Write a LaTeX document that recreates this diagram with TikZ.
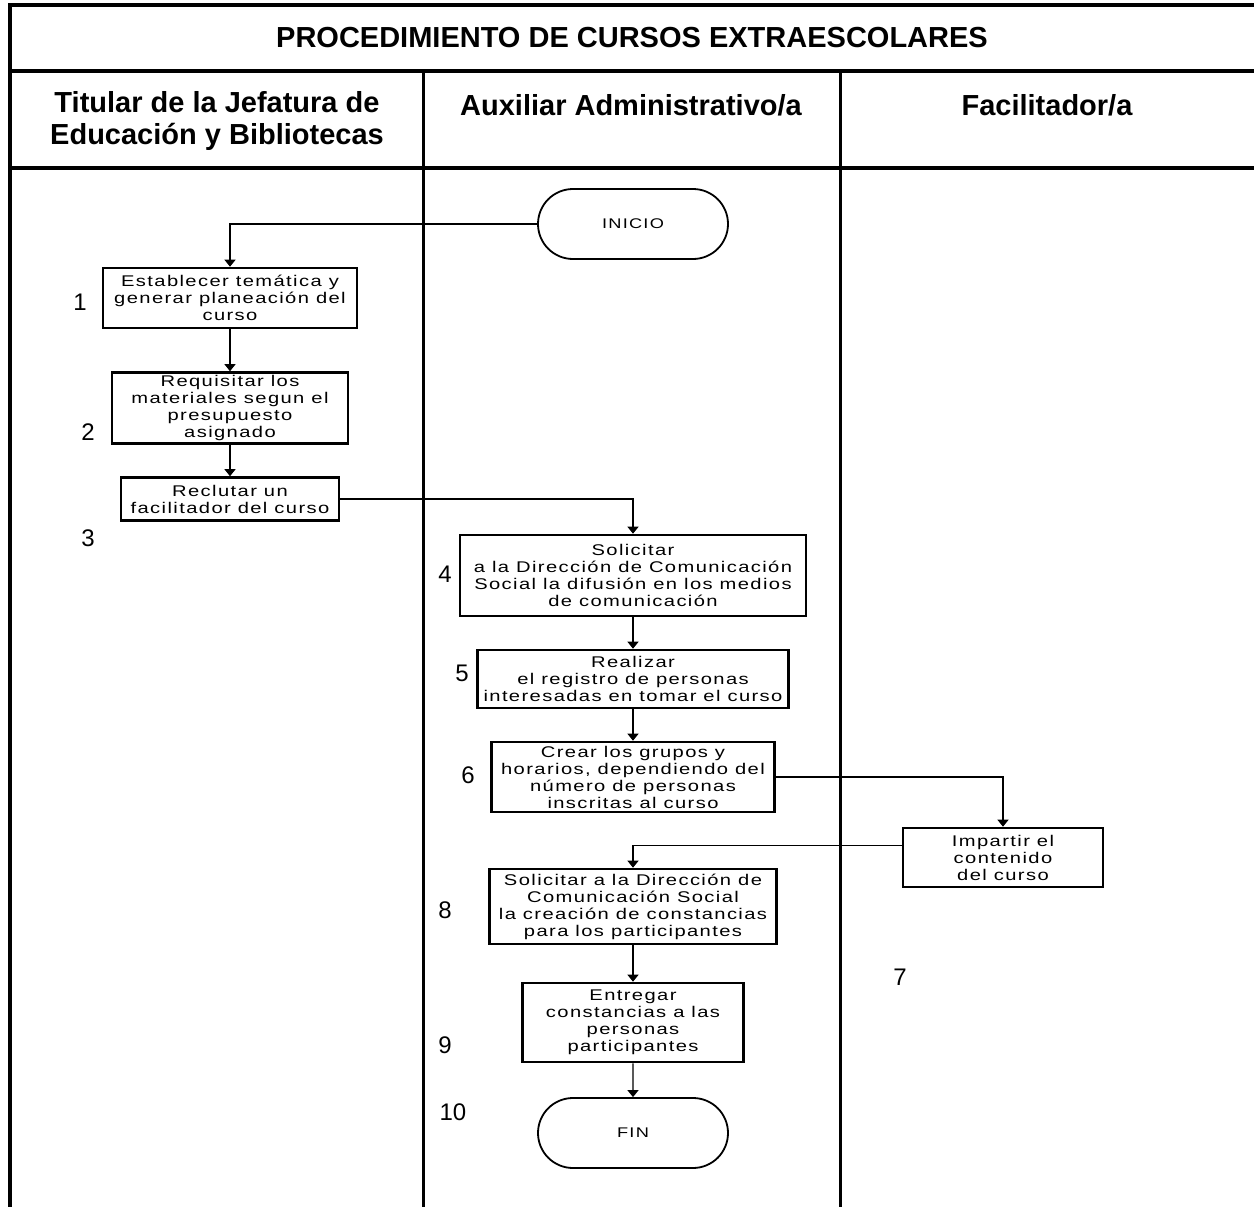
\documentclass[tikz,border=0pt]{standalone}
\usepackage{fontspec}
\setmainfont{Liberation Sans}
\newfontfamily\boxfont[FakeStretch=1.3,LetterSpace=9]{Liberation Sans}
\usetikzlibrary{arrows.meta,shapes.misc}
\begin{document}
\begin{tikzpicture}[x=1pt,y=-1pt,
  tline/.style={line width=4pt},
  cline/.style={line width=3pt},
  stepbox/.style={draw, line width=2.6pt, align=center, inner sep=0pt,
    font=\boxfont\fontsize{15.5}{17}\selectfont},
  term/.style={draw, line width=1.8pt, rounded rectangle, inner sep=0pt,
    minimum width=190pt, minimum height=70pt,
    font=\boxfont\fontsize{14}{16}\selectfont},
  num/.style={font=\fontsize{24}{24}\selectfont},
  arr/.style={line width=1.3pt, -{Triangle[width=11pt,length=7pt]}},
  head/.style={font=\bfseries\fontsize{29}{32}\selectfont, align=center}
]
\useasboundingbox (0,0) rectangle (1254,1207);
% table
\draw[tline] (10,1207) -- (10,5) -- (1254,5);
\draw[tline] (8,71) -- (1254,71);
\draw[tline] (8,168) -- (1254,168);
\draw[cline] (423,71) -- (423,1207);
\draw[cline] (840,71) -- (840,1207);
% titles
\node[head] (title) at (632,38) {PROCEDIMIENTO DE CURSOS EXTRAESCOLARES};
\node[head] (h1) at (217,121) {Titular de la Jefatura de\\Educación y Bibliotecas};
\node[head] (h2) at (631,105) {Auxiliar Administrativo/a};
\node[head] (h3) at (1047,105) {Facilitador/a};
% shapes
\node[term] (ini) at (633,224) {INICIO};
\node[stepbox, minimum width=254pt, minimum height=60pt] (b1) at (230,298)
  {Establecer temática y\\generar planeación del\\curso};
\node[stepbox, minimum width=236pt, minimum height=71pt] (b2) at (230,408)
  {Requisitar los\\materiales segun el\\presupuesto\\asignado};
\node[stepbox, minimum width=218pt, minimum height=43pt] (b3) at (230,499)
  {Reclutar un\\facilitador del curso};
\node[stepbox, minimum width=346pt, minimum height=81pt] (b4) at (633,575.5)
  {Solicitar\\a la Dirección de Comunicación\\Social la difusión en los medios\\de comunicación};
\node[stepbox, minimum width=311pt, minimum height=58pt] (b5) at (633,679)
  {Realizar\\el registro de personas\\interesadas en tomar el curso};
\node[stepbox, minimum width=283pt, minimum height=70pt] (b6) at (633,777)
  {Crear los grupos y\\horarios, dependiendo del\\número de personas\\inscritas al curso};
\node[stepbox, minimum width=200pt, minimum height=59pt] (b7) at (1003,857.5)
  {Impartir el\\contenido\\del curso};
\node[stepbox, minimum width=287pt, minimum height=75pt] (b8) at (633,906.5)
  {Solicitar a la Dirección de\\Comunicación Social\\la creación de constancias\\para los participantes};
\node[stepbox, minimum width=221pt, minimum height=79pt] (b9) at (633,1022.5)
  {Entregar\\constancias a las\\personas\\participantes};
\node[term] (fin) at (633,1133) {FIN};
% numbers
\node[num] (n1) at (80,302) {1};
\node[num] (n2) at (88,432) {2};
\node[num] (n3) at (88,538) {3};
\node[num] (n4) at (445,574) {4};
\node[num] (n5) at (462,673) {5};
\node[num] (n6) at (468,775) {6};
\node[num] (n7) at (900,977) {7};
\node[num] (n8) at (445,910) {8};
\node[num] (n9) at (445,1045) {9};
\node[num] (n10) at (453,1112) {10};
% connectors
\draw[arr] (ini.west) -| (b1.north);
\draw[arr] (b1) -- (b2);
\draw[arr] (b2) -- (b3);
\draw[arr] (b3.east) -| (b4.north);
\draw[arr] (b4) -- (b5);
\draw[arr] (b5) -- (b6);
\draw[arr] (b6.east) -| (b7.north);
\draw[arr] ([yshift=12pt]b7.west) -| (b8.north);
\draw[arr] (b8) -- (b9);
\draw[arr] (b9) -- (fin);
\end{tikzpicture}
\end{document}
